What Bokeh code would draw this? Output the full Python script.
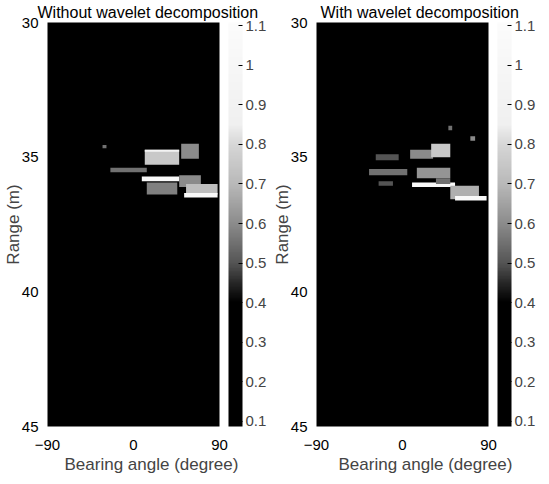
import numpy as np
from bokeh.plotting import figure
from bokeh.models import (Range1d, LinearColorMapper, ColorBar, FixedTicker,
                          CustomJSTickFormatter, Title, ColumnDataSource, LinearAxis)
from bokeh.layouts import row
from bokeh.embed import file_html
from bokeh.resources import INLINE

# ---------------- data ----------------
x_ticks = [-90, 0, 90]
y_ticks = [30, 35, 40, 45]
cbar_ticks = [0.1, 0.2, 0.3, 0.4, 0.5, 0.6, 0.7, 0.8, 0.9, 1.0, 1.1]
cbar_low = 0.087
cbar_high = 1.108

# Without wavelet decomposition: cells (bearing deg, range m, intensity)
no_wav_b0 = [11.8, 49.9, -24.2, 8.7, 47.8, 13.9, 55.0, 53.0, -32.4, 11.8]
no_wav_b1 = [47.8, 68.4, 13.9, 47.8, 70.5, 45.8, 88.0, 88.0, -28.3, 47.8]
no_wav_r0 = [34.72, 34.50, 35.39, 35.72, 35.67, 35.94, 36.00, 36.33, 34.55, 34.72]
no_wav_r1 = [35.28, 35.06, 35.56, 35.89, 36.11, 36.39, 36.39, 36.50, 34.67, 34.80]
no_wav_v = [0.75, 0.60, 0.55, 1.05, 0.60, 0.58, 0.72, 1.05, 0.55, 0.92]

# With wavelet decomposition
wav_b0 = [-28, -35, -25, 8, 30, 15, 10, 50, 55, 48, 71, 35]
wav_b1 = [-4, 5, -10, 32, 50, 50, 55, 80, 88, 52, 76, 50]
wav_r0 = [34.89, 35.44, 35.89, 34.72, 34.50, 35.39, 35.94, 36.06, 36.44, 33.83, 34.22, 35.78]
wav_r1 = [35.11, 35.67, 36.06, 35.06, 35.00, 35.78, 36.11, 36.56, 36.61, 34.00, 34.39, 36.00]
wav_v = [0.50, 0.55, 0.50, 0.60, 0.75, 0.62, 1.05, 0.68, 1.05, 0.55, 0.60, 0.55]

titles = ["Without wavelet decomposition", "With wavelet decomposition"]
x_label = "Bearing angle (degree)"
y_label = "Range (m)"

# ---------------- style ----------------
FONT = "Liberation Sans"
anch_v = [cbar_low, 0.40, 0.45, 0.50, 0.60, 0.70, 0.80, 0.85, cbar_high]
anch_g = [0, 0, 40, 85, 140, 185, 215, 240, 252]
levels = np.interp(np.linspace(cbar_low, cbar_high, 256), anch_v, anch_g).astype(int)
palette = ["#%02x%02x%02x" % (g, g, g) for g in levels]


def make_panel(title, b0, b1, r0, r1, v, border_left, title_off, xlab_off):
    mapper = LinearColorMapper(palette=palette, low=cbar_low, high=cbar_high)
    p = figure(frame_width=172, frame_height=404,
               x_range=Range1d(-90, 90), y_range=Range1d(45, 30),
               output_backend="svg", toolbar_location=None,
               min_border_left=border_left, min_border_right=0,
               min_border_top=21, min_border_bottom=0)
    p.background_fill_color = "black"
    p.border_fill_color = "white"
    p.outline_line_color = None
    p.grid.visible = False

    p.title = Title(text=title, align="left", offset=title_off,
                    text_font=FONT, text_font_size="16px",
                    text_font_style="normal", text_color="black", standoff=3)

    src = ColumnDataSource(dict(b0=b0, b1=b1, r0=r0, r1=r1, v=v))
    p.quad(left="b0", right="b1", top="r0", bottom="r1", source=src,
           fill_color={"field": "v", "transform": mapper}, line_color=None)

    for ax in (p.xaxis[0], p.yaxis[0]):
        ax.major_tick_line_color = None
        ax.minor_tick_line_color = None
        ax.axis_line_color = None
        ax.major_label_text_font = FONT
        ax.major_label_text_font_size = "15px"
        ax.major_label_text_color = "black"
    p.xaxis.major_label_standoff = 7
    p.yaxis.major_label_standoff = 3
    p.yaxis.major_label_text_baseline = "top"
    p.xaxis.ticker = FixedTicker(ticks=x_ticks)
    p.yaxis.ticker = FixedTicker(ticks=y_ticks)
    p.yaxis.axis_label = y_label
    p.yaxis.axis_label_text_font = FONT
    p.yaxis.axis_label_text_font_size = "17px"
    p.yaxis.axis_label_text_font_style = "normal"
    p.yaxis.axis_label_standoff = -4

    p.add_layout(Title(text=x_label, align="left", offset=xlab_off,
                       text_font=FONT, text_font_size="17px",
                       text_font_style="normal", standoff=0), "below")

    # invisible right axis: only provides the gap between the frame and the colour bar
    spacer = LinearAxis(ticker=FixedTicker(ticks=[37.5]),
                        major_label_overrides={37.5: ""},
                        axis_line_color=None,
                        major_tick_line_color=None, minor_tick_line_color=None,
                        major_tick_in=0, major_tick_out=9, major_label_standoff=0)
    p.add_layout(spacer, "right")

    cb = ColorBar(color_mapper=mapper, ticker=FixedTicker(ticks=cbar_ticks),
                  formatter=CustomJSTickFormatter(
                      code="return Math.abs(tick - 1) < 1e-9 ? '1' : tick.toFixed(1);"),
                  width=14, height=404, padding=0, margin=0,
                  label_standoff=3,
                  major_label_text_font=FONT, major_label_text_font_size="15px",
                  major_tick_in=4, major_tick_out=0, major_tick_line_color="black",
                  bar_line_color=None, border_line_color=None,
                  background_fill_color="white")
    p.add_layout(cb, "right")
    return p


p1 = make_panel(titles[0], no_wav_b0, no_wav_b1, no_wav_r0, no_wav_r1, no_wav_v, 35, -10, 17)
p2 = make_panel(titles[1], wav_b0, wav_b1, wav_r0, wav_r1, wav_v, 35, 4, 22)

layout = row(p1, p2)
open("out.html", "w").write(file_html(layout, INLINE))
